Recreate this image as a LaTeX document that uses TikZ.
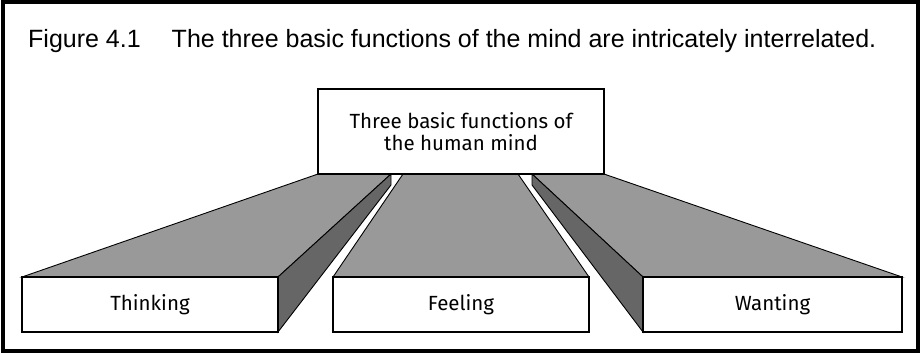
\documentclass[tikz,border=0pt]{standalone}
\usepackage{fontspec}
\setmainfont{Liberation Sans}
\newfontfamily\boxfont{Fira Sans}
\definecolor{facegray}{HTML}{999999}
\definecolor{sidegray}{HTML}{666666}
\begin{document}
\begin{tikzpicture}[x=1pt,y=-1pt,
  box/.style={draw=black, line width=1.6pt, fill=white, anchor=north west, outer sep=0pt, inner sep=0pt,
    font=\boxfont\fontsize{20.5}{22}\selectfont, align=center},
  face/.style={draw=black, line width=0.9pt, fill=facegray, line join=miter},
  side/.style={draw=black, line width=0.9pt, fill=sidegray, line join=miter}]
\useasboundingbox (0,0) rectangle (920,353);
\node[draw=black, line width=4pt, minimum width=915pt, minimum height=348pt, anchor=north west, outer sep=0pt, inner sep=0pt] (frame) at (2.5,2.5) {};
\node[anchor=base west, font=\fontsize{25}{28}\selectfont, inner sep=0pt] (title) at (28,48) {Figure 4.1\hspace{31pt}The three basic functions of the mind are intricately interrelated.};
% named corner points
\coordinate (tk) at (391,174);
\coordinate (tkb) at (391,185);
\coordinate (fl) at (403,174);
\coordinate (fr) at (518,174);
\coordinate (wt) at (532,174);
\coordinate (wtb) at (532,185);
% box outlines (named, drawn later on top)
\node[box, minimum width=256pt, minimum height=55pt, draw=none, fill=none] (think) at (22,277) {};
\node[box, minimum width=256pt, minimum height=55pt, draw=none, fill=none] (feel) at (333,277) {};
\node[box, minimum width=259pt, minimum height=55pt, draw=none, fill=none] (want) at (643,277) {};
\node[box, minimum width=286pt, minimum height=85pt, draw=none, fill=none] (top) at (318,89) {};
% faces
\draw[face] (think.north west) -- (top.south west) -- (tk) -- (think.north east) -- cycle;
\draw[side] (think.north east) -- (tk) -- (tkb) -- (think.south east) -- cycle;
\draw[face] (feel.north west) -- (fl) -- (fr) -- (feel.north east) -- cycle;
\draw[face] (wt) -- (top.south east) -- (want.north east) -- (want.north west) -- cycle;
\draw[side] (wt) -- (want.north west) -- (want.south west) -- (wtb) -- cycle;
% visible boxes
\node[box, minimum width=256pt, minimum height=55pt] (thinkbox) at (think.north west) {Thinking};
\node[box, minimum width=256pt, minimum height=55pt] (feelbox) at (feel.north west) {Feeling};
\node[box, minimum width=259pt, minimum height=55pt] (wantbox) at (want.north west) {Wanting};
\node[box, minimum width=286pt, minimum height=85pt] (topbox) at (top.north west) {Three basic functions of\\the human mind};
\end{tikzpicture}
\end{document}
